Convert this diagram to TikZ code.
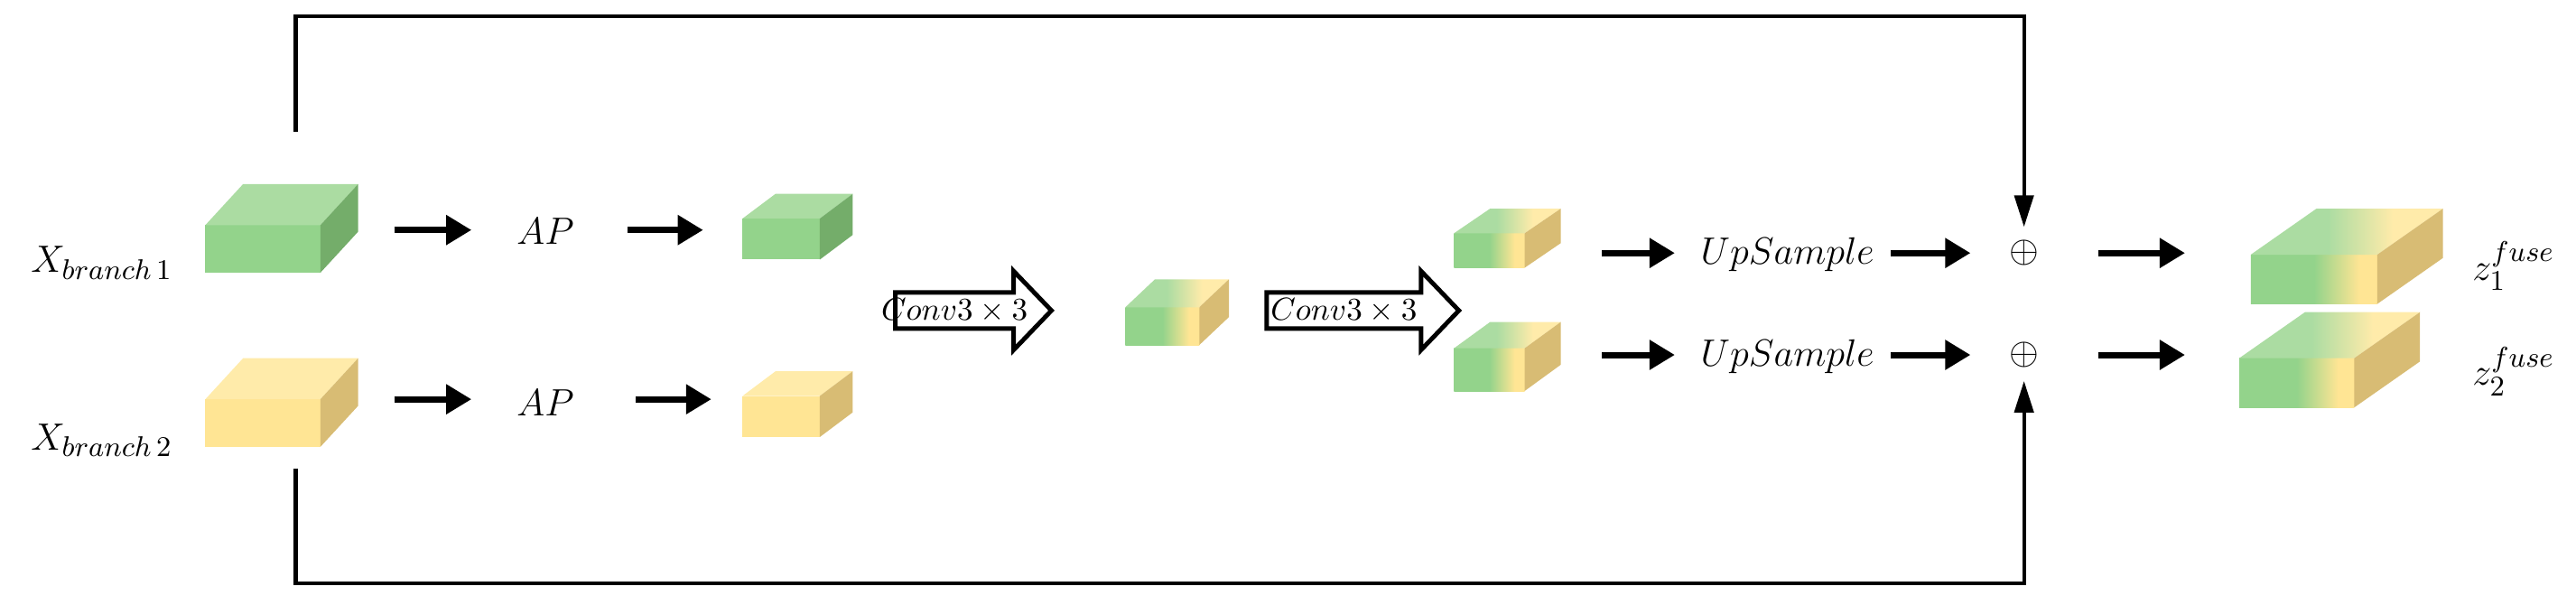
\documentclass[tikz,border=0pt]{standalone}
\usetikzlibrary{arrows.meta}
\definecolor{gF}{HTML}{93D38B}\definecolor{gT}{HTML}{ABDCA2}\definecolor{gS}{HTML}{74AD6A}
\definecolor{yF}{HTML}{FFE594}\definecolor{yT}{HTML}{FFEBAA}\definecolor{yS}{HTML}{D8BC74}
\pgfdeclarehorizontalshading{gyF}{100bp}{color(0bp)=(gF); color(50bp)=(gF); color(68bp)=(yF); color(100bp)=(yF)}
\pgfdeclarehorizontalshading{gyT}{100bp}{color(0bp)=(gT); color(45bp)=(gT); color(62bp)=(yT); color(100bp)=(yT)}
% #1 name, #2 x, #3 y (front top-left), #4 w, #5 h, #6 dx, #7 dy, #8 kind
\newcommand\mycube[8]{%
 \coordinate (#1) at (#2+#4/2,#3+#5/2);
 \ifcase#8
  \fill[gF] (#2,#3) rectangle ++(#4,#5);
  \fill[gT] (#2,#3) -- ++(#6,-#7) -- ++(#4,0) -- ++(-#6,#7) -- cycle;
  \fill[gS] (#2+#4,#3) -- ++(#6,-#7) -- ++(0,#5) -- ++(-#6,#7) -- cycle;
 \or
  \fill[yF] (#2,#3) rectangle ++(#4,#5);
  \fill[yT] (#2,#3) -- ++(#6,-#7) -- ++(#4,0) -- ++(-#6,#7) -- cycle;
  \fill[yS] (#2+#4,#3) -- ++(#6,-#7) -- ++(0,#5) -- ++(-#6,#7) -- cycle;
 \or
  \shade[shading=gyF] (#2,#3) rectangle ++(#4,#5);
  \shade[shading=gyT] (#2,#3) -- ++(#6,-#7) -- ++(#4,0) -- ++(-#6,#7) -- cycle;
  \fill[yS] (#2+#4,#3) -- ++(#6,-#7) -- ++(0,#5) -- ++(-#6,#7) -- cycle;
 \fi}
\begin{document}
\begin{tikzpicture}[x=0.0182cm,y=-0.0182cm,
 lbl/.style={font=\fontsize{13}{16}\selectfont, inner sep=0pt},
 thk/.style={line width=2pt,-{Triangle[length=8pt,width=9pt]}},
 thn/.style={line width=1.2pt,-{Triangle[length=10pt,width=6pt]}},
 hol/.style={draw,line width=1.4pt,fill=white,line join=miter}]
\useasboundingbox (0,0) rectangle (1568,368);
% cubes
\mycube{c1}{125}{137}{70}{29}{23}{25}{0}
\mycube{c2}{125}{243}{70}{29}{23}{25}{1}
\mycube{s1}{452}{133}{47}{25}{20}{15}{0}
\mycube{s2}{452}{241}{47}{25}{20}{15}{1}
\mycube{m}{685}{187}{45}{23}{18}{17}{2}
\mycube{r1}{885}{142}{43}{21}{22}{15}{2}
\mycube{r2}{885}{212}{43}{26}{22}{16}{2}
\mycube{o1}{1370}{155}{77}{30}{40}{28}{2}
\mycube{o2}{1363}{218}{70}{30}{40}{28}{2}
% labels
\node[lbl] (x1) at (62,160) {$X_{branch\,1}$};
\node[lbl] (x2) at (62,268) {$X_{branch\,2}$};
\node[lbl] (ap1) at (332,141) {$AP$};
\node[lbl] (ap2) at (332,245) {$AP$};
\node[lbl] (u1) at (1088,155) {$UpSample$};
\node[lbl] (u2) at (1088,217) {$UpSample$};
\node[lbl] (p1) at (1232,154) {$\oplus$};
\node[lbl] (p2) at (1232,216) {$\oplus$};
\node[lbl] (z1) at (1530,162) {$z_1^{fuse}$};
\node[lbl] (z2) at (1530,226) {$z_2^{fuse}$};
% arrows
\coordinate (a1s) at (240,140); \coordinate (a1e) at (287,140);
\coordinate (b1s) at (382,140); \coordinate (b1e) at (428,140);
\coordinate (a2s) at (240,243); \coordinate (a2e) at (287,243);
\coordinate (b2s) at (387,243); \coordinate (b2e) at (433,243);
\draw[thk] (a1s) -- (a1e); \draw[thk] (b1s) -- (b1e);
\draw[thk] (a2s) -- (a2e); \draw[thk] (b2s) -- (b2e);
\coordinate (w1) at (975,154); \coordinate (w2) at (975,216);
\coordinate (v1) at (1277,154); \coordinate (v2) at (1277,216);
\coordinate (e1) at (1330,154); \coordinate (e2) at (1330,216);
\draw[thk,shorten >=8pt] (w1) -- (u1.west|-w1); \draw[thk,shorten <=5pt,shorten >=12pt] (u1.east|-w1) -- (p1.west|-w1);
\draw[thk,shorten >=8pt] (w2) -- (u2.west|-w2); \draw[thk,shorten <=5pt,shorten >=12pt] (u2.east|-w2) -- (p2.west|-w2);
\draw[thk] (v1) -- (e1); \draw[thk] (v2) -- (e2);
% skip connections
\coordinate (t0) at (180,80); \coordinate (t1) at (180,10); \coordinate (t2) at (1232,10);
\draw[thn,shorten >=4pt] (t0) -- (t1) -- (t2) -- (p1.north);
\coordinate (q0) at (180,285); \coordinate (q1) at (180,355); \coordinate (q2) at (1232,355);
\draw[thn,shorten >=4pt] (q0) -- (q1) -- (q2) -- (p2.south);
% hollow conv arrows
\draw[hol] (545,178) -- (617,178) -- (617,165) -- (640,189) -- (617,213) -- (617,200) -- (545,200) -- cycle;
\node[lbl,font=\fontsize{10}{12}\selectfont] (cv1) at (581,189) {$Conv3\times 3$};
\draw[hol] (771,178) -- (865,178) -- (865,165) -- (888,189) -- (865,213) -- (865,200) -- (771,200) -- cycle;
\node[lbl,font=\fontsize{10}{12}\selectfont] (cv2) at (818,189) {$Conv3\times 3$};
\end{tikzpicture}
\end{document}
